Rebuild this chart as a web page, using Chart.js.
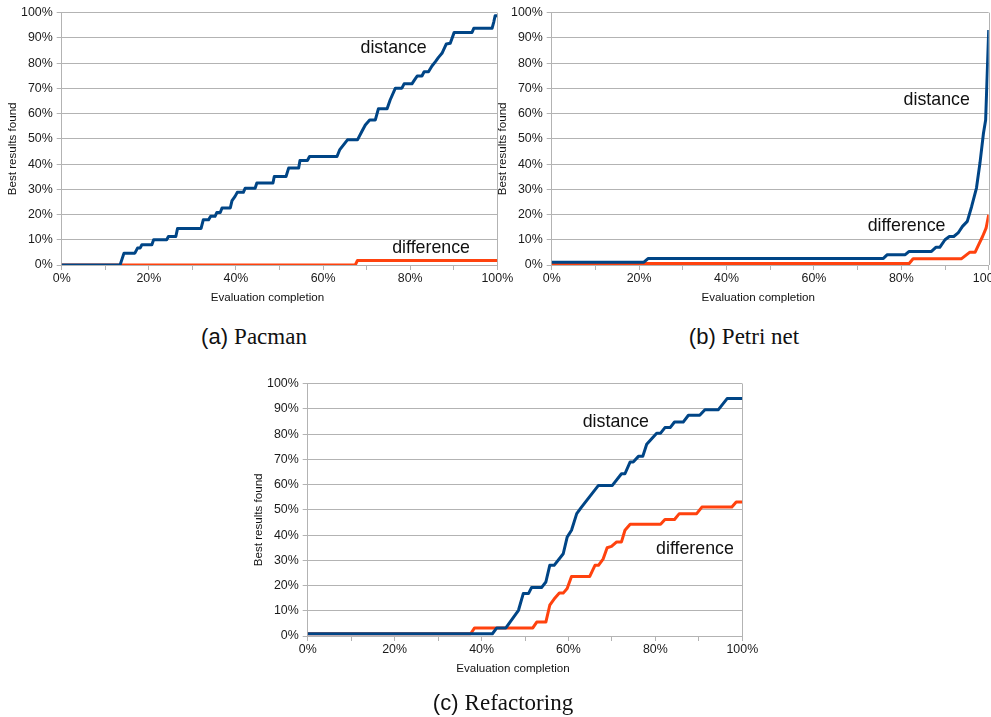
<!DOCTYPE html>
<html>
<head>
<meta charset="utf-8">
<script src="https://cdn.jsdelivr.net/npm/chart.js@4.4.1/dist/chart.umd.min.js"></script>
<style>
  body { margin: 0; background: #fff; width: 991px; height: 717px; position: relative; overflow: hidden; }
  canvas { position: absolute; }
  .caption { position: absolute; transform: translate(-50%, -50%); white-space: nowrap; line-height: 1; color: #111;
             font-family: "Liberation Sans", Arial, sans-serif; font-size: 22px; }
  .caption span { font-family: "Liberation Serif", "Times New Roman", serif; font-size: 23px; }
</style>
</head>
<body>
<canvas id="pacman" width="520" height="320" style="left:0;top:0"></canvas>
<canvas id="petri" width="520" height="320" style="left:490px;top:0"></canvas>
<canvas id="refactoring" width="520" height="320" style="left:246px;top:371px"></canvas>

<div class="caption" style="left:254px;top:336px">(a) <span>Pacman</span></div>
<div class="caption" style="left:744px;top:336px">(b) <span>Petri net</span></div>
<div class="caption" style="left:503px;top:702px">(c) <span>Refactoring</span></div>

<script>
// [evaluation completion %, best results found %]
const pacmanDistance = [[0,0],[13.4,0],[14.3,4.7],[16.8,4.7],[17.4,6.7],[18.0,6.7],[18.4,8.0],[20.7,8.0],
  [21.1,10.0],[24.1,10.0],[24.5,11.3],[26.2,11.3],[26.6,14.5],[32.0,14.5],[32.5,17.9],[33.7,17.9],
  [34.2,19.3],[35.2,19.3],[35.6,20.8],[36.4,20.8],[36.8,22.6],[38.7,22.6],[39.1,25.5],[39.8,27.2],
  [40.3,28.8],[41.7,28.8],[42.1,30.4],[44.4,30.4],[44.8,32.5],[48.5,32.5],[48.8,35.1],[51.5,35.1],
  [52.1,38.4],[54.4,38.4],[54.7,41.4],[56.4,41.4],[56.9,43.0],[63.2,43.0],[63.8,45.6],[64.7,47.6],
  [65.6,49.6],[67.9,49.6],[68.9,52.9],[69.7,55.5],[70.7,57.5],[72.0,57.5],[72.7,61.9],[74.7,61.9],
  [75.4,65.4],[76.6,70.1],[78.1,70.1],[78.6,71.8],[80.4,71.8],[81.0,73.4],[81.6,74.9],[82.7,74.9],
  [83.2,76.6],[84.2,76.6],[85.0,78.9],[85.8,80.6],[86.5,82.3],[87.3,83.9],[88.3,87.6],[89.2,87.9],
  [90.1,92.2],[94.2,92.2],[94.6,93.8],[98.8,93.8],[99.2,96.4],[99.5,98.8],[100,98.8]];
const pacmanDifference = [[0,0],[67.4,0],[67.9,1.8],[100,1.8]];

const petriDistance = [[0,1.1],[21.1,1.1],[22.1,2.6],[75.9,2.6],[76.8,4.1],[80.9,4.1],[81.8,5.4],
  [86.9,5.4],[87.9,7.0],[88.8,7.0],[90.0,10.0],[91.0,11.3],[92.0,11.3],[93.0,12.7],[94.0,15.3],
  [95.1,17.3],[96.1,23.2],[97.2,30.5],[98.0,40.4],[98.8,52.2],[99.3,57.5],[100,93.1]];
const petriDifference = [[0,0.6],[81.8,0.6],[82.7,2.5],[93.8,2.5],[95.7,5.1],[96.9,5.1],[97.6,7.7],
  [98.6,11.3],[99.4,14.6],[100,19.9]];

const refactoringDistance = [[0,0.9],[42.5,0.9],[43.5,3.2],[45.6,3.2],[48.5,10.2],[49.6,16.8],
  [50.8,16.8],[51.5,19.2],[53.8,19.2],[54.8,21.4],[55.7,28.0],[56.7,28.0],[58.8,32.6],[59.7,39.2],
  [60.7,41.9],[61.9,48.5],[63.0,51.1],[66.9,59.7],[70.1,59.7],[72.2,64.3],[73.0,64.3],[74.2,69.0],
  [74.9,69.0],[76.1,71.2],[77.1,71.2],[78.0,76.0],[80.3,80.4],[81.2,80.4],[82.2,82.6],[83.4,82.6],
  [84.4,84.8],[86.4,84.8],[87.6,87.5],[90.2,87.5],[91.4,89.7],[94.5,89.7],[96.5,94.1],[100,94.1]];
const refactoringDifference = [[0,0.9],[37.5,0.9],[38.4,3.2],[51.8,3.2],[52.7,5.5],[54.8,5.5],
  [55.7,12.2],[56.9,15.1],[57.9,17.0],[58.8,17.0],[59.7,18.8],[60.7,23.6],[64.9,23.6],[66.1,28.0],
  [66.9,28.0],[68.0,30.6],[68.9,35.0],[69.9,35.5],[71.1,37.3],[72.2,37.3],[73.0,41.9],[74.2,44.3],
  [81.2,44.3],[82.2,46.2],[84.4,46.2],[85.5,48.5],[89.5,48.5],[90.7,51.1],[97.6,51.1],[98.6,53.1],
  [100,53.1]];

// series names written inside the plots, at [x %, y %]
const pacmanNotes = [['distance', 76.2, 85.9], ['difference', 84.8, 6.6]];
const petriNotes = [['distance', 88.1, 65.4], ['difference', 81.2, 15.3]];
const refactoringNotes = [['distance', 70.9, 84.8], ['difference', 89.1, 34.6]];

const xTitle = 'Evaluation completion';
const yTitle = 'Best results found';

const gridColor = '#b3b3b3';
const font = '"Liberation Sans", Arial, sans-serif';

const decorations = {
  id: 'decorations',
  beforeDatasetsDraw(chart) {
    const {ctx, chartArea: a} = chart;
    const x = Math.round(a.right) + 0.5;
    ctx.save();
    ctx.strokeStyle = gridColor;
    ctx.lineWidth = 1;
    ctx.beginPath();
    ctx.moveTo(x, a.top);
    ctx.lineTo(x, a.bottom);
    ctx.stroke();
    ctx.restore();
  },
  afterDraw(chart, args, opts) {
    const {ctx, chartArea: a, scales} = chart;
    ctx.save();
    ctx.fillStyle = '#111';
    ctx.textAlign = 'center';
    ctx.textBaseline = 'middle';
    ctx.font = '11.6px ' + font;
    ctx.fillText(xTitle, (a.left + a.right) / 2 - 12, a.bottom + 32.4);
    ctx.save();
    ctx.translate(a.left - 48.5, (a.top + a.bottom) / 2 + 10);
    ctx.rotate(-Math.PI / 2);
    ctx.fillText(yTitle, 0, 0);
    ctx.restore();
    ctx.font = '17.8px ' + font;
    opts.notes.forEach(([text, x, y]) => {
      ctx.fillText(text, scales.x.getPixelForValue(x), scales.y.getPixelForValue(y));
    });
    ctx.restore();
  }
};

function toPoints(pairs) {
  return pairs.map(([x, y]) => ({x: x, y: y}));
}

function makeChart(id, distance, difference, notes, padRight) {
  return new Chart(document.getElementById(id).getContext('2d'), {
    type: 'line',
    data: {
      datasets: [
        { label: 'distance', data: toPoints(distance), borderColor: '#004586', borderWidth: 3,
          pointRadius: 0, tension: 0, borderJoinStyle: 'round' },
        { label: 'difference', data: toPoints(difference), borderColor: '#ff420e', borderWidth: 3,
          pointRadius: 0, tension: 0, borderJoinStyle: 'round' }
      ]
    },
    options: {
      responsive: false,
      animation: false,
      layout: { padding: { top: 12.7, right: padRight, left: 0, bottom: 0 } },
      plugins: {
        legend: { display: false },
        tooltip: { enabled: false },
        decorations: { notes: notes }
      },
      scales: {
        x: {
          type: 'linear', min: 0, max: 100,
          afterFit(scale) { scale.height = 55; },
          grid: { drawOnChartArea: false, color: gridColor, tickLength: 5 },
          border: { color: gridColor },
          ticks: {
            stepSize: 10, autoSkip: false, maxRotation: 0, padding: 1,
            color: '#1a1a1a', font: { family: font, size: 12.4 },
            callback: v => (v % 20 === 0 ? v + '%' : '')
          }
        },
        y: {
          min: 0, max: 100,
          afterFit(scale) { scale.width = 61.7; },
          grid: { color: gridColor, tickLength: 5 },
          border: { color: gridColor },
          ticks: {
            stepSize: 10, padding: 4,
            color: '#1a1a1a', font: { family: font, size: 12.4 },
            callback: v => v + '%'
          }
        }
      }
    },
    plugins: [decorations]
  });
}

makeChart('pacman', pacmanDistance, pacmanDifference, pacmanNotes, 22.7);
makeChart('petri', petriDistance, petriDifference, petriNotes, 21.3);
makeChart('refactoring', refactoringDistance, refactoringDifference, refactoringNotes, 23.7);
</script>
</body>
</html>
